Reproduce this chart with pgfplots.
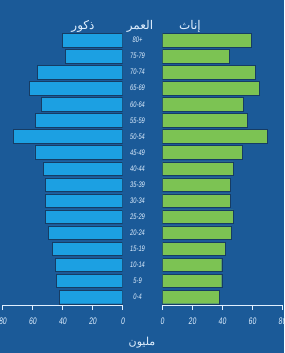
\documentclass[border=0pt]{standalone}
\usepackage{fontspec}
\setmainfont{Liberation Sans}
\newfontfamily\arabicfont[Script=Arabic]{DejaVu Sans}
\newfontfamily\condfont[FakeStretch=0.72,FakeSlant=0.12]{Liberation Sans}
\TeXXeTstate=1
\usepackage{pgfplots}
\pgfplotsset{compat=1.18}
\definecolor{bgcol}{RGB}{27,90,152}
\definecolor{malecol}{RGB}{28,160,226}
\definecolor{femcol}{RGB}{124,195,83}
\definecolor{txtcol}{RGB}{225,240,255}
\definecolor{gapcol}{RGB}{22,60,100}

\pgfplotstableread{
idx male female
0 42 38
1 44 39.6
2 45 39.6
3 47 42.2
4 49.5 46.2
5 51.5 47.3
6 51.5 45.1
7 51.5 45.1
8 53 47.3
9 58.5 53.6
10 73 70
11 58 56.7
12 54 54
13 62 64.5
14 57 62.2
15 38 44.7
16 40 59
}\pyramid

\pgfplotsset{
  pyr/.style={
    scale only axis, width=120pt, height=273pt,
    xmin=0, xmax=80, ymin=-0.5, ymax=16.5,
    enlargelimits=false,
    xbar, bar width=0.84,
    axis x line*=bottom,
    x axis line style={draw=txtcol, line width=0.9pt},
    xtick={0,20,40,60,80},
    tick align=outside,
    major tick length=5pt,
    major x tick style={draw=txtcol, line width=0.9pt},
    /pgf/number format/assume math mode=true,
    xticklabel style={font=\condfont\fontsize{9.5}{9.5}\selectfont, text=txtcol, yshift=-4pt},
  }
}

\begin{document}
\begin{tikzpicture}
\fill[bgcol] (0,0) rectangle (284pt,353pt);
\useasboundingbox (0,0) rectangle (284pt,353pt);

\begin{axis}[pyr, at={(2.7pt,48pt)}, anchor=south west,
  x dir=reverse,
  axis y line=none, ytick=\empty]
\addplot[fill=malecol, draw=gapcol, line width=0.4pt] table[x=male, y=idx] {\pyramid};
\end{axis}

\begin{axis}[pyr, at={(162.3pt,48pt)}, anchor=south west,
  axis y line*=left,
  y axis line style={draw=none},
  major y tick style={draw=none},
  ytick={0,...,16},
  yticklabels={0-4,5-9,10-14,15-19,20-24,25-29,30-34,35-39,40-44,45-49,50-54,55-59,60-64,65-69,70-74,75-79,80+},
  yticklabel style={anchor=center, xshift=-20pt, font=\condfont\fontsize{8}{8}\selectfont, text=txtcol}]
\addplot[fill=femcol, draw=gapcol, line width=0.4pt] table[x=female, y=idx] {\pyramid};
\end{axis}

\node[text=txtcol, font=\arabicfont\fontsize{12}{12}\selectfont] at (83pt,327pt) {\beginR ذكور\endR};
\node[text=txtcol, font=\arabicfont\fontsize{12}{12}\selectfont] at (140pt,327pt) {\beginR العمر\endR};
\node[text=txtcol, font=\arabicfont\fontsize{12}{12}\selectfont] at (190pt,327pt) {\beginR إناث\endR};
\node[text=txtcol, font=\arabicfont\fontsize{11}{11}\selectfont] at (142pt,10pt) {\beginR مليون\endR};
\end{tikzpicture}
\end{document}
